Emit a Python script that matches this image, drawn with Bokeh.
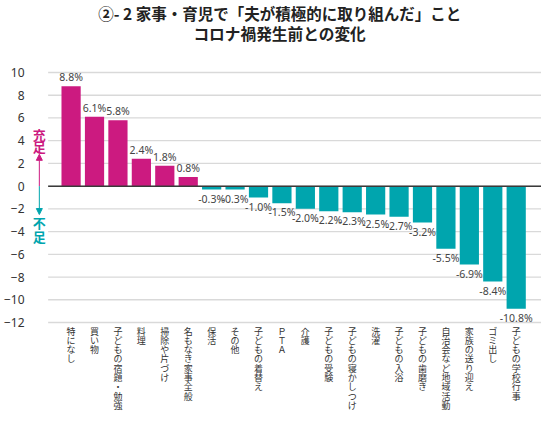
from bokeh.plotting import figure
from bokeh.models import ColumnDataSource, Range1d, FixedTicker, Label, Arrow, NormalHead
from bokeh.core.properties import value
from bokeh.embed import file_html
from bokeh.resources import INLINE

categories = ["特になし", "買い物", "子どもの宿題・勉強", "料理", "掃除や片づけ", "名もなき家事全般",
              "保活", "その他", "子どもの着替え", "ＰＴＡ", "介護", "子どもの受験",
              "子どもの寝かしつけ", "洗濯", "子どもの入浴", "子どもの歯磨き",
              "自治会など地域活動", "家族の送り迎え", "ゴミ出し", "子どもの学校行事"]
values = [8.8, 6.1, 5.8, 2.4, 1.8, 0.8, -0.3, -0.3, -1.0, -1.5, -2.0, -2.2,
          -2.3, -2.5, -2.7, -3.2, -5.5, -6.9, -8.4, -10.8]
y_ticks = [10, 8, 6, 4, 2, 0, -2, -4, -6, -8, -10, -12]
title_lines = ["②- 2 家事・育児で「夫が積極的に取り組んだ」こと", "コロナ禍発生前との変化"]

POS = "#CC1A80"
NEG = "#00A5AE"

W, H = 541, 423
FL = 20                    # frame left (px)
GRID_L = 36                # where the grid starts (px in figure)
ppu_x = (W - GRID_L) / 21.06
X0 = -0.98 - (GRID_L - FL) / ppu_x
X1 = 20.08
TOP_PX, BOT_PX = 72, 322   # where y=10 and y=-12 land (px from top)
ppu_y = (BOT_PX - TOP_PX) / 22.0
Y1 = 10 + TOP_PX / ppu_y
Y0 = -12 - (H - BOT_PX) / ppu_y
PITCH = 9.3                # vertical writing: px per character

def dx(fx):
    return X0 + (fx - FL) / ppu_x

def dy(fy):
    return Y1 - fy / ppu_y

xs = list(range(len(categories)))
src = ColumnDataSource(dict(
    x=xs,
    top=values,
    color=[POS if v >= 0 else NEG for v in values],
    label=[f"{v:.1f}%" for v in values],
    baseline=["bottom" if v >= 0 else "top" for v in values],
    yoff=[-2 if v >= 0 else 2 for v in values],
))

# one glyph per character so the category names read top-to-bottom
cx, cy, ct, coff = [], [], [], []
for i, c in enumerate(categories):
    for j, ch in enumerate(c):
        cx.append(i)
        cy.append(y_ticks[-1])
        ct.append(ch)
        coff.append(2 + j * PITCH)
cat_src = ColumnDataSource(dict(x=cx, y=cy, text=ct, off=coff))

p = figure(width=W, height=H, output_backend="svg", toolbar_location=None,
           x_range=Range1d(X0, X1), y_range=Range1d(Y0, Y1), x_axis_location=None,
           min_border_left=FL, min_border_right=0, min_border_top=0, min_border_bottom=0)
p.outline_line_color = None
p.background_fill_color = "white"
p.xgrid.grid_line_color = None
p.ygrid.grid_line_color = None

# grid lines (start where the chart area starts)
gx0 = dx(GRID_L)
p.segment(x0=[gx0] * len(y_ticks), x1=[X1] * len(y_ticks), y0=y_ticks, y1=y_ticks,
          line_color="#d9d9d9", line_width=1.3)

p.vbar(x="x", top="top", bottom=0, width=0.82, fill_color="color", line_color=None, source=src)

p.segment(x0=[gx0], x1=[X1], y0=[0], y1=[0], line_color="#3a3a3a", line_width=1.5)

p.text(x="x", y="top", text="label", text_baseline="baseline", y_offset="yoff",
       text_align="center", text_font=value("Noto Sans"), text_font_size="10.5px",
       text_color="#444444", source=src)

p.text(x="x", y="y", text="text", text_baseline="top", text_align="center", y_offset="off",
       text_font=value("Noto Sans CJK JP"), text_font_size="9px",
       text_color="#333333", source=cat_src)

# y axis
p.yaxis.ticker = FixedTicker(ticks=y_ticks)
p.yaxis.axis_line_color = None
p.yaxis.major_tick_line_color = None
p.yaxis.minor_tick_line_color = None
p.yaxis.major_label_standoff = 2
p.yaxis.major_label_text_font = "Noto Sans"
p.yaxis.major_label_text_font_size = "12px"
p.yaxis.major_label_text_color = "#333333"

# 充足 / 不足 arrows
ax = dx(27)
p.add_layout(Arrow(end=NormalHead(size=6, fill_color=POS, line_color=POS),
                   x_start=ax, y_start=0, x_end=ax, y_end=2.8,
                   line_color=POS, line_width=1))
p.add_layout(Arrow(end=NormalHead(size=6, fill_color=NEG, line_color=NEG),
                   x_start=ax, y_start=0, x_end=ax, y_end=-2.5,
                   line_color=NEG, line_width=1))
for ch, yy, col in [("充", 4.58, POS), ("足", 3.48, POS), ("不", -3.23, NEG), ("足", -4.41, NEG)]:
    p.add_layout(Label(x=ax, y=yy, text=ch, text_align="center", text_baseline="middle",
                       text_font="Noto Sans CJK JP", text_font_style="bold", text_font_size="13px",
                       text_color=col))

# title
tx = dx(273)
for line, fy, fs in zip(title_lines, [12, 33], ["15.5px", "15.7px"]):
    p.add_layout(Label(x=tx, y=dy(fy), text=line, text_align="center", text_baseline="middle",
                       text_font="Noto Sans CJK JP", text_font_style="bold", text_font_size=fs,
                       text_color="#222222"))

open("out.html", "w").write(file_html(p, INLINE))
